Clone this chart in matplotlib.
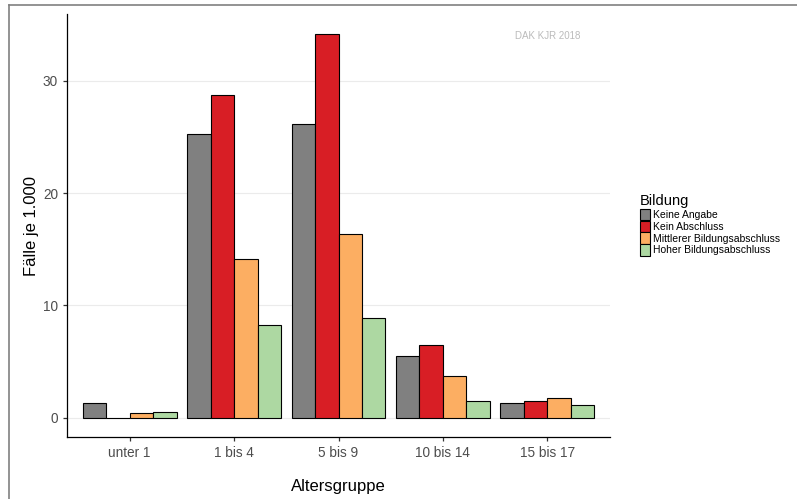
import numpy as np
import matplotlib.pyplot as plt
from matplotlib.patches import Patch
from matplotlib.lines import Line2D

plt.rcParams['font.family'] = ['Liberation Sans', 'DejaVu Sans']

groups = ['unter 1', '1 bis 4', '5 bis 9', '10 bis 14', '15 bis 17']
series = ['Keine Angabe', 'Kein Abschluss', 'Mittlerer Bildungsabschluss', 'Hoher Bildungsabschluss']
keine_angabe = [1.3, 25.3, 26.2, 5.5, 1.3]
kein_abschluss = [0.0, 28.7, 34.2, 6.5, 1.5]
mittlerer = [0.4, 14.1, 16.4, 3.75, 1.75]
hoher = [0.55, 8.3, 8.9, 1.5, 1.15]
colors = ['#808080', '#D81E25', '#FCAE62', '#ADD8A2']

values = [keine_angabe, kein_abschluss, mittlerer, hoher]

fig = plt.figure(figsize=(7.97, 4.99), dpi=100)
ax = fig.add_axes([67/797, 1-437/499, (610-67)/797, (437-14)/499])

x = np.arange(1, len(groups) + 1)
w = 0.225
for i, (vals, col) in enumerate(zip(values, colors)):
    ax.bar(x + (i - 1.5) * w, vals, width=w, color=col, edgecolor='black',
           linewidth=0.8, zorder=3)

ax.set_xlim(0.4, 5.6)
ax.set_ylim(-1.71, 35.95)
ax.set_xticks(x)
ax.set_xticklabels(groups)
ax.set_yticks([0, 10, 20, 30])
ax.yaxis.grid(True, color='#EBEBEB', linewidth=0.8, zorder=0)
for s in ['top', 'right']:
    ax.spines[s].set_visible(False)
for s in ['left', 'bottom']:
    ax.spines[s].set_linewidth(0.9)
ax.tick_params(axis='both', labelsize=9.8, labelcolor='#4D4D4D', length=3,
               width=0.9, color='#333333')
ax.set_xlabel('Altersgruppe', fontsize=12, labelpad=14)
ax.set_ylabel('Fälle je 1.000', fontsize=12, labelpad=3)

ax.text(548/797, 1-36/499, 'DAK KJR 2018', transform=fig.transFigure,
        ha='center', va='center', fontsize=7, color='#BBBBBB')

handles = [Patch(facecolor=c, edgecolor='black', linewidth=0.8) for c in colors]
leg = fig.legend(handles, series, title='Bildung', loc='upper left',
                 bbox_to_anchor=(636/797, 1-190/499), frameon=False,
                 fontsize=7.5, title_fontsize=10.5, handlelength=0.9,
                 handleheight=1.3, handletextpad=0.3, labelspacing=0.05,
                 borderaxespad=0)
leg._legend_box.align = 'left'

# outer frame lines
fig.add_artist(Line2D([9/797, 1], [1-5/499, 1-5/499], color='#808080', linewidth=1.2,
                      transform=fig.transFigure))
fig.add_artist(Line2D([9/797, 9/797], [0, 1-5/499], color='#808080', linewidth=1.2,
                      transform=fig.transFigure))

fig.savefig('out.png', dpi=100)
